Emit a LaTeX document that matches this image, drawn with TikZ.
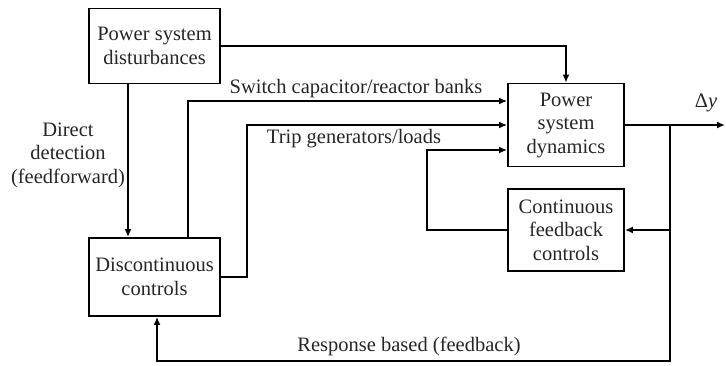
\documentclass[tikz,border=0pt]{standalone}
\usepackage{fontspec}
\setmainfont{Liberation Serif}
\usetikzlibrary{arrows.meta}
\begin{document}
\begin{tikzpicture}[x=1pt,y=-1pt,
  every node/.style={font=\fontsize{20.5}{23.5}\selectfont, text=black!85},
  blk/.style={draw, line width=1.8pt, align=center, inner sep=0pt},
  lbl/.style={align=center, inner sep=0pt},
  arr/.style={line width=1.8pt, -{Latex[length=8pt,width=7pt]}},
  ln/.style={line width=1.8pt}]
\useasboundingbox (0,0) rectangle (726,365);
% blocks
\node[blk, minimum width=131pt, minimum height=75pt] (dist) at (154.5,46) {Power system\\disturbances};
\node[blk, minimum width=116pt, minimum height=83pt] (psd) at (566,125) {Power\\system\\dynamics};
\node[blk, minimum width=116pt, minimum height=82pt] (cfc) at (566,230) {Continuous\\feedback\\controls};
\node[blk, minimum width=131pt, minimum height=78pt] (disc) at (154.5,277) {Discontinuous\\controls};
% helper coordinates
\coordinate (fx) at (128,0);
\coordinate (sx) at (188,0);
\coordinate (tx) at (247,0);
\coordinate (cx) at (427,0);
\coordinate (bx) at (670,0);
\coordinate (dx) at (157,0);
\coordinate (swy) at (0,101);
\coordinate (cfy) at (0,150);
\coordinate (by) at (0,361);
\coordinate (out) at (725,125);
\coordinate (br) at (bx |- psd.east);
% connectors
\draw[arr] (dist.east) -| (psd.north);
\draw[arr] (dist.south -| fx) -- (disc.north -| fx);
\draw[arr] (disc.north -| sx) |- (psd.west |- swy);
\draw[arr] (disc.east) -| (tx |- psd.west) -- (psd.west);
\draw[arr] (cfc.west) -| (cx |- cfy) -- (psd.west |- cfy);
\draw[arr] (psd.east) -- (out);
\draw[arr] (br) |- (cfc.east);
\draw[arr] (br) -- (br |- by) -| (disc.south -| dx);
% labels
\node[lbl] (l1) at (356,89) {Switch capacitor/reactor banks};
\node[lbl] (l2) at (354,139) {Trip generators/loads};
\node[lbl] (l3) at (68,155) {Direct\\detection\\(feedforward)};
\node[lbl] (l4) at (409,346) {Response based (feedback)};
\node[lbl] (l5) at (706,103) {Δ\textit{y}};
\end{tikzpicture}
\end{document}
